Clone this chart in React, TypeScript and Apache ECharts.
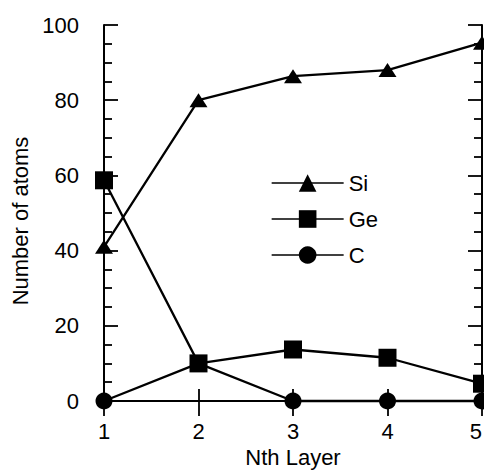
import React, { useEffect, useRef } from "react";
import * as echarts from "echarts";

const layers = [1, 2, 3, 4, 5];
const siValues = [41, 80, 86.4, 88, 95.3];
const geValues = [58.7, 10, 13.7, 11.5, 4.6];
const cValues = [0, 10, 0, 0, 0];
const xTicks = { min: 1, max: 5, interval: 1 };
const yTicks = { min: 0, max: 100, interval: 20 };

const FONT = "'Liberation Sans', Arial, Helvetica, sans-serif";

export default function App() {
  const ref = useRef<HTMLDivElement>(null);
  useEffect(() => {
    if (!ref.current) return;
    const chart = echarts.init(ref.current, undefined, { renderer: "svg" });
    const pair = (vals: number[]) => layers.map((x, i) => [x, vals[i]]);
    const axisLine = { show: true, lineStyle: { color: "#000", width: 2 } };
    const base = {
      type: "line" as const,
      color: "#000",
      lineStyle: { color: "#000", width: 2.3 },
      itemStyle: { color: "#000" },
      clip: false,
      z: 3,
    };
    chart.setOption({
      animation: false,
      backgroundColor: "#fff",
      textStyle: { fontFamily: FONT },
      grid: { left: 104, right: 2, top: 25, bottom: 69, containLabel: false, outerBoundsMode: "none" },
      legend: {
        data: ["Si", "Ge", "C"],
        orient: "vertical",
        left: 271,
        top: 172,
        padding: 0,
        itemWidth: 72,
        itemHeight: 22,
        itemGap: 14,
        lineStyle: { width: 1.3 },
        textStyle: { fontFamily: FONT, fontSize: 22, color: "#000" },
      },
      xAxis: [
        {
          type: "value",
          min: xTicks.min,
          max: xTicks.max,
          interval: xTicks.interval,
          position: "bottom",
          name: "Nth Layer",
          nameLocation: "middle",
          nameGap: 43,
          nameTextStyle: { fontFamily: FONT, fontSize: 22, color: "#000" },
          axisLine,
          axisTick: { show: true, inside: true, length: 12, lineStyle: { color: "#000", width: 1.8 } },
          axisLabel: { fontFamily: FONT, fontSize: 22, color: "#000", margin: 19, alignMaxLabel: "right" },
          splitLine: { show: false },
        },
        {
          type: "value",
          min: xTicks.min,
          max: xTicks.max,
          interval: xTicks.interval,
          position: "top",
          axisLine,
          axisTick: { show: true, inside: true, length: 15, lineStyle: { color: "#000", width: 1.8 } },
          axisLabel: { show: false },
          splitLine: { show: false },
        },
      ],
      yAxis: [
        {
          type: "value",
          min: yTicks.min,
          max: yTicks.max,
          interval: yTicks.interval,
          position: "left",
          name: "Number of atoms",
          nameLocation: "middle",
          nameGap: 70,
          nameTextStyle: { fontFamily: FONT, fontSize: 22, color: "#000", padding: [0, 16, 0, 0] },
          axisLine,
          axisTick: { show: true, inside: true, length: 14, lineStyle: { color: "#000", width: 1.8 } },
          minorTick: { show: true, splitNumber: 4, length: 8, lineStyle: { color: "#000", width: 1.8 } },
          axisLabel: { fontFamily: FONT, fontSize: 22, color: "#000", margin: 25 },
          splitLine: { show: false },
        },
        {
          type: "value",
          min: yTicks.min,
          max: yTicks.max,
          interval: yTicks.interval,
          position: "right",
          axisLine,
          axisTick: { show: true, inside: true, length: 14, lineStyle: { color: "#000", width: 1.8 } },
          minorTick: { show: true, splitNumber: 4, length: 8, lineStyle: { color: "#000", width: 1.8 } },
          axisLabel: { show: false },
          splitLine: { show: false },
        },
      ],
      series: [
        { ...base, name: "C", data: pair(cValues), symbol: "circle", symbolSize: 17 },
        { ...base, name: "Si", data: pair(siValues), symbol: "triangle", symbolSize: [18, 14] },
        { ...base, name: "Ge", data: pair(geValues), symbol: "rect", symbolSize: 18 },
      ],
    });
    return () => chart.dispose();
  }, []);
  return (
    <div
      ref={ref}
      style={{ position: "absolute", left: 0, top: 0, width: 484, height: 470 }}
    />
  );
}
